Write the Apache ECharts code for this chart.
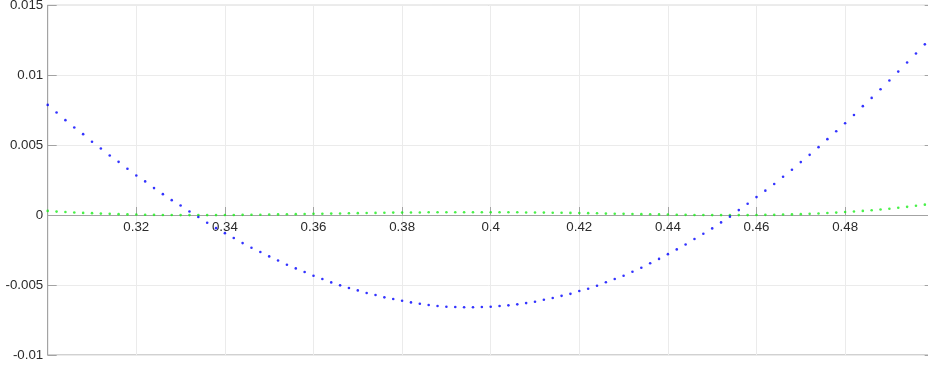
<!DOCTYPE html>
<html>
<head>
<meta charset="utf-8">
<script src="https://cdn.jsdelivr.net/npm/echarts@6/dist/echarts.min.js"></script>
<style>
  html, body { margin: 0; padding: 0; background: #fff; }
  #chart { width: 928px; height: 366px; }
</style>
</head>
<body>
<div id="chart"></div>
<script>
// Sample positions along x
const xValues = [
  0.300, 0.302, 0.304, 0.306, 0.308, 0.310, 0.312, 0.314, 0.316, 0.318,
  0.320, 0.322, 0.324, 0.326, 0.328, 0.330, 0.332, 0.334, 0.336, 0.338,
  0.340, 0.342, 0.344, 0.346, 0.348, 0.350, 0.352, 0.354, 0.356, 0.358,
  0.360, 0.362, 0.364, 0.366, 0.368, 0.370, 0.372, 0.374, 0.376, 0.378,
  0.380, 0.382, 0.384, 0.386, 0.388, 0.390, 0.392, 0.394, 0.396, 0.398,
  0.400, 0.402, 0.404, 0.406, 0.408, 0.410, 0.412, 0.414, 0.416, 0.418,
  0.420, 0.422, 0.424, 0.426, 0.428, 0.430, 0.432, 0.434, 0.436, 0.438,
  0.440, 0.442, 0.444, 0.446, 0.448, 0.450, 0.452, 0.454, 0.456, 0.458,
  0.460, 0.462, 0.464, 0.466, 0.468, 0.470, 0.472, 0.474, 0.476, 0.478,
  0.480, 0.482, 0.484, 0.486, 0.488, 0.490, 0.492, 0.494, 0.496, 0.498
];

// Error curve (blue dots)
const errorValues = [
  0.00788, 0.00734, 0.00679, 0.00626, 0.00579, 0.00524, 0.00476, 0.00426, 0.00381, 0.00331,
  0.00283, 0.00241, 0.00193, 0.00150, 0.00107, 0.00069, 0.00026, -0.00013, -0.00055, -0.00093,
  -0.00129, -0.00164, -0.00200, -0.00233, -0.00264, -0.00295, -0.00324, -0.00355, -0.00381, -0.00407,
  -0.00433, -0.00457, -0.00481, -0.00502, -0.00521, -0.00538, -0.00557, -0.00571, -0.00588, -0.00600,
  -0.00612, -0.00624, -0.00634, -0.00643, -0.00650, -0.00655, -0.00657, -0.00659, -0.00659, -0.00657,
  -0.00655, -0.00650, -0.00645, -0.00638, -0.00629, -0.00619, -0.00605, -0.00593, -0.00577, -0.00563,
  -0.00543, -0.00526, -0.00505, -0.00480, -0.00457, -0.00433, -0.00405, -0.00376, -0.00344, -0.00313,
  -0.00279, -0.00245, -0.00210, -0.00171, -0.00133, -0.00095, -0.00052, -0.00011, 0.00036, 0.00081,
  0.00129, 0.00175, 0.00222, 0.00274, 0.00324, 0.00379, 0.00431, 0.00486, 0.00543, 0.00600,
  0.00657, 0.00716, 0.00779, 0.00838, 0.00900, 0.00962, 0.01026, 0.01091, 0.01155, 0.01221
];

// Second curve (green dots), stays just above zero
const secondValues = [
  0.00030, 0.00025, 0.00022, 0.00019, 0.00016, 0.00014, 0.00011, 0.00009, 0.00007, 0.00005,
  0.00004, 0.00003, 0.00002, 0.00001, 0.00001, 0.00000, 0.00000, 0.00000, 0.00000, 0.00000,
  0.00001, 0.00001, 0.00002, 0.00003, 0.00003, 0.00004, 0.00005, 0.00006, 0.00007, 0.00008,
  0.00009, 0.00010, 0.00011, 0.00012, 0.00013, 0.00014, 0.00015, 0.00016, 0.00017, 0.00018,
  0.00018, 0.00019, 0.00019, 0.00020, 0.00020, 0.00020, 0.00021, 0.00021, 0.00021, 0.00021,
  0.00020, 0.00020, 0.00020, 0.00020, 0.00019, 0.00019, 0.00018, 0.00017, 0.00017, 0.00016,
  0.00015, 0.00014, 0.00013, 0.00011, 0.00010, 0.00009, 0.00008, 0.00007, 0.00006, 0.00005,
  0.00004, 0.00003, 0.00002, 0.00001, 0.00001, 0.00000, 0.00000, 0.00000, 0.00000, 0.00000,
  0.00001, 0.00002, 0.00002, 0.00004, 0.00005, 0.00007, 0.00009, 0.00012, 0.00015, 0.00018,
  0.00022, 0.00026, 0.00030, 0.00035, 0.00040, 0.00046, 0.00053, 0.00059, 0.00067, 0.00075
];

// Axis ranges
const xRange = [0.3, 0.5, 0.02];
const yRange = [-0.01, 0.015, 0.005];

const axisGray = '#a3a3a3';
const gridGray = '#ebebeb';
const textColor = '#2b2b2b';
const fontFamily = '"Liberation Sans", Arial, Helvetica, sans-serif';
const labelSize = 13.3;

// Plot box in pixels
const plotTop = 5.3;
const plotHeight = 350;
const plotBottom = 11;
// The x axis crosses y = 0: lift it from the bottom edge by that distance
const zeroLift = plotHeight * (0 - yRange[0]) / (yRange[1] - yRange[0]);

function pairs(xs, ys) {
  return xs.map((x, i) => [x, ys[i]]);
}

function trimNum(v, digits) {
  return String(parseFloat(v.toFixed(digits)));
}

const chart = echarts.init(document.getElementById('chart'), null, { renderer: 'canvas' });

chart.setOption({
  animation: false,
  backgroundColor: '#ffffff',
  grid: {
    left: 47.7,
    top: plotTop,
    right: -5.7,
    bottom: plotBottom,
    show: true,
    borderColor: axisGray,
    borderWidth: 1,
    containLabel: false,
    outerBoundsMode: 'none'
  },
  xAxis: {
    type: 'value',
    min: xRange[0],
    max: xRange[1],
    interval: xRange[2],
    position: 'bottom',
    offset: -zeroLift,
    axisLine: { show: true, onZero: false, lineStyle: { color: axisGray, width: 1 } },
    axisTick: { show: true, inside: true, length: 8, lineStyle: { color: axisGray } },
    axisLabel: {
      color: textColor,
      fontSize: labelSize,
      fontFamily: fontFamily,
      margin: 6,
      formatter: v => (v < 0.31 || v > 0.49) ? '' : trimNum(v, 2)
    },
    splitLine: { show: true, lineStyle: { color: gridGray, width: 1 } }
  },
  yAxis: [
    {
      type: 'value',
      min: yRange[0],
      max: yRange[1],
      interval: yRange[2],
      position: 'left',
      axisLine: { show: true, onZero: false, lineStyle: { color: axisGray, width: 1 } },
      axisTick: { show: true, inside: true, length: 9, lineStyle: { color: axisGray } },
      axisLabel: {
        color: textColor,
        fontSize: labelSize,
        fontFamily: fontFamily,
        margin: 4.5,
        formatter: v => trimNum(v, 3)
      },
      splitLine: { show: true, lineStyle: { color: gridGray, width: 1 } }
    },
    {
      type: 'value',
      min: yRange[0],
      max: yRange[1],
      interval: yRange[2],
      position: 'right',
      axisLine: { show: true, onZero: false, lineStyle: { color: axisGray, width: 1 } },
      axisTick: { show: true, inside: true, length: 9, lineStyle: { color: axisGray } },
      axisLabel: { show: false },
      splitLine: { show: false }
    }
  ],
  series: [
    {
      name: 'second',
      type: 'scatter',
      yAxisIndex: 0,
      symbol: 'circle',
      symbolSize: 2.6,
      itemStyle: { color: '#1aee1a' },
      data: pairs(xValues, secondValues),
      z: 3
    },
    {
      name: 'error',
      type: 'scatter',
      yAxisIndex: 0,
      symbol: 'circle',
      symbolSize: 2.6,
      itemStyle: { color: '#0000ff' },
      data: pairs(xValues, errorValues),
      z: 4
    }
  ]
});
</script>
</body>
</html>
